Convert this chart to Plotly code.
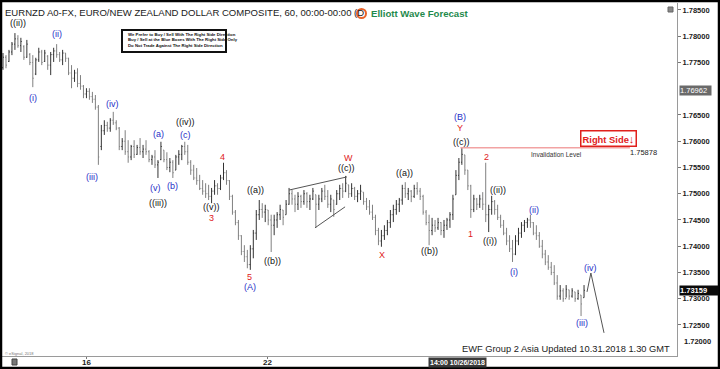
import plotly.graph_objects as go

# ---------------- DATA (prices in pips above 1.7000) ----------------
BASE = 1.7
high_pips = [
    768, 764, 774, 789, 806, 802, 797, 783, 793, 768,
    764, 759, 778, 774, 774, 764, 770, 778, 785, 770,
    774, 768, 759, 745, 736, 739, 726, 707, 701, 701,
    694, 688, 669, 631, 640, 637, 644, 656, 640, 627,
    606, 621, 602, 593, 602, 593, 606, 593, 602, 583,
    574, 583, 564, 599, 583, 579, 568, 564, 574, 583,
    593, 599, 593, 564, 555, 549, 536, 526, 520, 517,
    511, 526, 520, 536, 559, 545, 526, 498, 469, 450,
    421, 402, 393, 402, 431, 469, 488, 482, 479, 469,
    460, 460, 465, 479, 469, 488, 511, 507, 498, 503,
    498, 507, 503, 498, 511, 498, 498, 511, 517, 507,
    498, 488, 507, 517, 520, 534, 517, 520, 513, 507,
    517, 503, 492, 488, 479, 460, 435, 431, 440, 450,
    469, 479, 488, 492, 517, 522, 511, 507, 517, 522,
    511, 498, 469, 460, 454, 450, 454, 446, 450, 454,
    465, 498, 545, 568, 588, 574, 545, 517, 498, 492,
    498, 503, 559, 479, 496, 488, 479, 460, 450, 435,
    421, 412, 421, 435, 446, 450, 454, 460, 446, 440,
    427, 412, 393, 383, 370, 364, 345, 326, 320, 326,
    317, 320, 313, 317, 307, 326]
low_pips = [
    736, 739, 751, 764, 774, 778, 770, 755, 759, 745,
    703, 726, 751, 745, 751, 736, 726, 751, 759, 751,
    745, 751, 726, 701, 713, 703, 698, 682, 682, 679,
    673, 660, 555, 583, 612, 618, 618, 631, 621, 583,
    583, 574, 559, 564, 568, 574, 574, 568, 574, 560,
    555, 549, 530, 564, 560, 545, 541, 530, 545, 555,
    564, 574, 555, 536, 526, 517, 507, 498, 492, 488,
    482, 498, 498, 507, 526, 517, 488, 460, 440, 412,
    383, 370, 358, 355, 377, 412, 450, 454, 446, 440,
    389, 421, 435, 450, 440, 460, 479, 479, 465, 469,
    473, 479, 473, 469, 488, 435, 469, 484, 488, 473,
    465, 456, 479, 488, 492, 503, 492, 494, 488, 484,
    488, 479, 469, 460, 450, 421, 402, 399, 412, 421,
    435, 446, 460, 465, 479, 492, 488, 484, 492, 498,
    488, 460, 440, 402, 421, 427, 431, 421, 416, 431,
    435, 450, 498, 526, 555, 536, 507, 454, 465, 469,
    473, 469, 446, 427, 460, 460, 450, 435, 421, 402,
    389, 370, 383, 402, 416, 427, 435, 435, 421, 412,
    397, 377, 364, 355, 345, 326, 298, 298, 294, 302,
    298, 302, 294, 298, 267, 302]
open_pips = [
    740, 760, 752, 770, 785, 795, 782, 780, 760, 765,
    750, 728, 755, 770, 752, 762, 745, 765, 772, 765,
    755, 768, 758, 730, 720, 730, 710, 705, 690, 695,
    685, 680, 665, 590, 620, 630, 625, 640, 635, 625,
    590, 600, 580, 570, 590, 575, 588, 580, 585, 580,
    565, 570, 555, 565, 583, 565, 550, 560, 545, 570,
    575, 590, 580, 560, 545, 530, 525, 510, 505, 500,
    495, 505, 515, 510, 530, 540, 525, 495, 465, 445,
    420, 390, 380, 365, 395, 425, 460, 470, 465, 469,
    450, 440, 450, 460, 469, 460, 480, 500, 490, 480,
    495, 485, 500, 485, 490, 498, 480, 490, 505, 495,
    480, 488, 480, 500, 510, 505, 517, 500, 510, 495,
    500, 503, 485, 475, 465, 455, 430, 410, 420, 430,
    445, 460, 470, 480, 488, 510, 500, 505, 495, 510,
    505, 495, 465, 445, 430, 440, 435, 445, 430, 440,
    450, 460, 498, 535, 560, 574, 545, 515, 470, 490,
    480, 490, 480, 460, 470, 485, 470, 455, 440, 425,
    410, 395, 385, 410, 425, 440, 445, 450, 445, 425,
    420, 400, 385, 370, 360, 350, 330, 305, 315, 300,
    317, 305, 313, 300, 307, 302]
close_pips = [
    760, 745, 770, 785, 795, 782, 790, 760, 785, 750,
    720, 755, 770, 750, 768, 745, 765, 772, 765, 755,
    768, 758, 730, 720, 730, 710, 705, 690, 695, 685,
    680, 665, 570, 620, 630, 625, 640, 635, 625, 590,
    600, 580, 570, 590, 575, 588, 580, 585, 580, 565,
    570, 555, 560, 590, 565, 550, 560, 540, 570, 575,
    590, 580, 560, 545, 530, 525, 510, 505, 500, 495,
    505, 515, 510, 530, 540, 525, 495, 465, 445, 420,
    390, 380, 365, 395, 425, 460, 470, 465, 470, 450,
    440, 450, 460, 470, 455, 480, 500, 490, 480, 495,
    485, 500, 485, 490, 505, 480, 490, 505, 495, 480,
    490, 470, 500, 510, 505, 520, 500, 510, 495, 500,
    505, 485, 475, 465, 455, 430, 410, 420, 430, 445,
    460, 470, 480, 488, 510, 500, 505, 495, 510, 505,
    495, 465, 445, 430, 440, 435, 445, 430, 440, 450,
    460, 490, 535, 560, 575, 545, 515, 470, 490, 480,
    490, 480, 460, 470, 485, 470, 455, 440, 425, 410,
    395, 385, 410, 425, 440, 445, 450, 445, 425, 420,
    400, 385, 370, 360, 350, 330, 305, 315, 300, 318,
    305, 315, 300, 310, 290, 316]

# Elliott wave labels (text, bar index, price, colour group)
wave_text = ["((ii))", "(i)", "(ii)", "(iv)", "(iii)", "(a)", "(c)", "((iv))", "(v)", "(b)",
             "((iii))", "4", "((v))", "3", "((a))", "((b))", "5", "(A)", "W", "((c))",
             "X", "((a))", "((b))", "(B)", "Y", "((c))", "1", "2", "((ii))", "((i))",
             "(i)", "(ii)", "(iii)", "(iv)"]
wave_bar = [5.0, 10.1, 18.1, 36.9, 29.9, 52.3, 61.4, 61.4, 51.3, 57.0,
            52.0, 73.8, 70.1, 70.1, 84.9, 90.3, 82.6, 82.9, 115.8, 115.4,
            127.2, 134.6, 143.0, 153.4, 153.4, 154.0, 157.0, 162.4, 166.1, 163.4,
            171.5, 178.2, 194.3, 197.0]
wave_price = [1.7825, 1.7682, 1.7804, 1.7671, 1.7532, 1.7614, 1.7612, 1.7637, 1.7511, 1.7515,
              1.7482, 1.7570, 1.7475, 1.7454, 1.7507, 1.7372, 1.7341, 1.7322, 1.7568, 1.7549,
              1.7383, 1.7539, 1.7391, 1.7646, 1.7625, 1.7599, 1.7423, 1.7570, 1.7507, 1.7410,
              1.7351, 1.7469, 1.7254, 1.7359]
wave_kind = ["k", "b", "b", "b", "b", "b", "b", "k", "b", "b",
             "k", "r", "k", "r", "k", "k", "r", "b", "r", "k",
             "r", "k", "k", "b", "r", "k", "r", "r", "k", "k",
             "b", "b", "b", "b"]

# triangle and projected path
tri_upper_bar, tri_upper_price = [96.0, 115.4], [1.7507, 1.7532]
tri_lower_bar, tri_lower_price = [104.7, 114.8], [1.7435, 1.7475]
proj_bar = [196.0, 197.3, 201.7]
proj_price = [1.7313, 1.7349, 1.7235]

invalidation = 1.75878
last_price = 1.73159
marker_price = 1.76962
y_ticks = [1.725, 1.73, 1.735, 1.74, 1.745, 1.75, 1.755, 1.76, 1.765, 1.775, 1.78, 1.785]
x_tick_bar = [28.0, 88.6]
x_tick_text = ["16", "22"]

# ---------------- FIGURE ----------------
FONT = "Liberation Sans"
W, H = 720, 369
ML, MR, MT, MB = 2, 43, 3, 13
PW, PH = W - ML - MR, H - MT - MB


def px(x):
    return (x - ML) / PW


def py(y):
    return (H - MB - y) / PH


to_price = lambda arr: [BASE + v / 10000 for v in arr]
bars = list(range(len(high_pips)))
assert len(high_pips) == len(low_pips) == len(open_pips) == len(close_pips)

fig = go.Figure()
fig.add_trace(go.Ohlc(
    x=bars, open=to_price(open_pips), high=to_price(high_pips),
    low=to_price(low_pips), close=to_price(close_pips),
    increasing=dict(line=dict(color="#333333", width=1)),
    decreasing=dict(line=dict(color="#808080", width=1)),
    tickwidth=0.3, hoverinfo="skip", showlegend=False))

for xs, ys in [(tri_upper_bar, tri_upper_price), (tri_lower_bar, tri_lower_price), (proj_bar, proj_price)]:
    fig.add_trace(go.Scatter(x=xs, y=ys, mode="lines", line=dict(color="#555555", width=1),
                             hoverinfo="skip", showlegend=False))

colors = {"k": "#111111", "b": "#1f2fc8", "r": "#e0201c"}
ann = []
for t, xb, yp, k in zip(wave_text, wave_bar, wave_price, wave_kind):
    ann.append(dict(x=xb, y=yp, xref="x", yref="y", text=t, showarrow=False,
                    xanchor="center", yanchor="middle",
                    font=dict(family=FONT, size=9, color=colors[k])))


def note(x, y, text, size, color, xanchor="center", **kw):
    d = dict(x=px(x), y=py(y), xref="paper", yref="paper", xanchor=xanchor, yanchor="middle",
             text=text, showarrow=False, font=dict(family=FONT, size=size, color=color))
    d.update(kw)
    ann.append(d)


# title and branding
note(3, 12, "EURNZD A0-FX, EURO/NEW ZEALAND DOLLAR COMPOSITE, 60, 00:00-00:00 (D", 9.55, "#1a1a1a",
     xanchor="left")
note(369, 14, "<b>Elliott Wave Forecast</b>", 9.6, "#1f8a4c", xanchor="left")
box_lines = ["We Prefer to Buy / Sell With The Right Side Direction",
             "Buy / Sell at the Blue Boxes With The Right Side Only",
             "Do Not Trade Against The Right Side Direction"]
for i, line in enumerate(box_lines):
    note(126, 34.5 + 5.3 * i, "<b>" + line + "</b>", 4.3, "#111111", xanchor="left")

# invalidation annotations
note(556, 154, "Invalidation Level", 6.5, "#333333")
note(643, 153, "1.75878", 7.5, "#222222")
note(608, 138.5, "<b>Right Side<span style='font-size:11px'>\u2193</span></b>", 9.4, "#e0201c",
     bgcolor="white", bordercolor="#e0201c", borderwidth=1.5, borderpad=1)
note(672, 349, "EWF Group 2 Asia Updated 10.31.2018 1.30 GMT", 9.3, "#1a1a1a", xanchor="right")

# price tags on the right axis
ann.append(dict(x=px(679), y=marker_price, xref="paper", yref="y", xanchor="left", yanchor="middle",
                text="1.76962", showarrow=False, bgcolor="#6a6a6a", borderpad=0, width=31, align="left",
                font=dict(family=FONT, size=7.5, color="white")))
ann.append(dict(x=px(679), y=last_price, xref="paper", yref="y", xanchor="left", yanchor="middle",
                text="<b>1.73159</b>", showarrow=False, bgcolor="#0a0a0a", borderpad=0, width=38,
                align="left", font=dict(family=FONT, size=7.5, color="white")))
note(682, 341.7, "<b>1.72000</b>", 7.5, "#1a1a1a", xanchor="left")

# x tick labels (drawn as text so they sit inside the short bottom band)
for xb, t in zip(x_tick_bar, x_tick_text):
    ann.append(dict(x=xb, y=py(362.5), xref="x", yref="paper", xanchor="center", yanchor="middle",
                    text="<b>" + t + "</b>", showarrow=False,
                    font=dict(family=FONT, size=8, color="#1a1a1a")))

# bottom labels
note(457, 362, "<b>14:00 10/26/2018</b>", 7, "white", bgcolor="#3a3a3a", borderpad=1)
note(3, 353, "\u00a9 eSignal, 2018", 4, "#777777", xanchor="left")

shapes = [
    dict(type="line", xref="x", yref="y", x0=153.5, x1=210.4, y0=invalidation, y1=invalidation,
         line=dict(color="#f2a3a3", width=1.5)),
    dict(type="rect", xref="paper", yref="paper", x0=px(122), x1=px(226), y0=py(52), y1=py(30),
         line=dict(color="#111111", width=2), fillcolor="rgba(255,255,255,0)"),
    dict(type="circle", xref="paper", yref="paper", x0=px(357), x1=px(366), y0=py(18), y1=py(9),
         line=dict(color="#e8632b", width=2)),
    dict(type="rect", xref="paper", yref="paper", x0=px(668), x1=px(673), y0=py(12), y1=py(7),
         line=dict(color="#666666", width=1), fillcolor="#888888"),
    dict(type="rect", xref="paper", yref="paper", x0=px(12), x1=px(17), y0=py(365), y1=py(359),
         line=dict(color="#444444", width=1), fillcolor="#777777"),
    dict(type="rect", xref="paper", yref="paper", x0=px(1), x1=px(719), y0=py(368), y1=py(1),
         line=dict(color="#000000", width=2.5), fillcolor="rgba(0,0,0,0)"),
]

fig.update_layout(
    width=W, height=H, margin=dict(l=ML, r=MR, t=MT, b=MB, autoexpand=False),
    paper_bgcolor="white", plot_bgcolor="white", showlegend=False,
    annotations=ann, shapes=shapes, hovermode=False,
    xaxis=dict(range=[-0.34, 226.2], showgrid=False, zeroline=False, showline=True,
               linecolor="#9a9a9a", linewidth=1, ticks="outside", ticklen=2, tickcolor="#777777",
               tickvals=x_tick_bar, showticklabels=False, rangeslider=dict(visible=False)),
    yaxis=dict(side="right", range=[1.71909, 1.78633], showgrid=False, zeroline=False,
               showline=True, linecolor="#9a9a9a", linewidth=1, ticks="outside", ticklen=3,
               tickcolor="#777777", tickvals=y_ticks, tickformat=".5f",
               tickfont=dict(family=FONT, size=7.5, color="#1a1a1a", weight="bold")),
)

fig.write_html("out.html")
